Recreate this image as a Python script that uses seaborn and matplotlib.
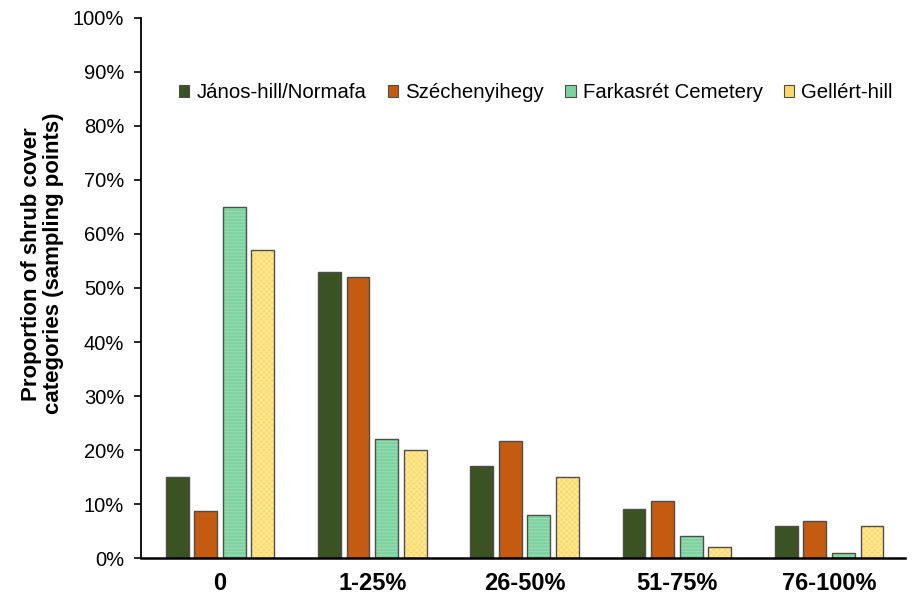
import pandas as pd
import matplotlib
matplotlib.use("Agg")
import matplotlib.pyplot as plt
import seaborn as sns
from matplotlib.patches import Rectangle, Patch
from matplotlib.ticker import PercentFormatter

categories = ["0", "1-25%", "26-50%", "51-75%", "76-100%"]
sites = ["János-hill/Normafa", "Széchenyihegy", "Farkasrét Cemetery", "Gellért-hill"]
janos = [15, 53, 17, 9, 6]
szechenyi = [8.7, 52, 21.6, 10.6, 6.9]
farkasret = [65, 22, 8, 4, 1]
gellert = [57, 20, 15, 2, 6]

colors = ["#3B5323", "#C55A11", "#7DD39F", "#FFD966"]
hatch_colors = [None, None, "#9DDFB6", "#FFEBA6"]
hatches = [None, None, "-----", "xxxxxx"]

df = pd.DataFrame({
    "category": categories * 4,
    "site": [s for s in sites for _ in categories],
    "value": janos + szechenyi + farkasret + gellert,
})

sns.set_theme(style="white")
plt.rcParams["font.family"] = ["Liberation Sans", "DejaVu Sans"]
plt.rcParams["text.color"] = "black"
plt.rcParams["xtick.color"] = "black"
plt.rcParams["ytick.color"] = "black"
plt.rcParams["axes.labelcolor"] = "black"
plt.rcParams["hatch.linewidth"] = 0.7

fig = plt.figure(figsize=(9.2, 5.95), dpi=100)
ax = fig.add_axes([0.153, 0.062, 0.831, 0.908])

sns.barplot(data=df, x="category", y="value", hue="site", hue_order=sites,
            order=categories, palette=colors, saturation=1, width=0.75, gap=0.2,
            edgecolor="#4d4d4d", linewidth=1.0, legend=False, ax=ax)

# hatch the light series, then redraw the grey outline over the hatch
for i, cont in enumerate(ax.containers):
    if hatches[i] is None:
        continue
    for bar in cont:
        bar.set_hatch(hatches[i])
        bar.set_edgecolor(hatch_colors[i])
        bar.set_linewidth(0)
        ax.add_patch(Rectangle(bar.get_xy(), bar.get_width(), bar.get_height(),
                               fill=False, edgecolor="#4d4d4d", linewidth=1.0))

ax.set_ylim(0, 100)
ax.set_xlim(-0.52, 4.5)
ax.yaxis.set_major_formatter(PercentFormatter(decimals=0))
ax.set_yticks(range(0, 101, 10))
ax.tick_params(axis="y", direction="out", length=5, width=1.2, color="black",
               labelsize=14.5, left=True, pad=7)
ax.tick_params(axis="x", length=0, labelsize=17, pad=10)
for lab in ax.get_xticklabels():
    lab.set_fontweight("bold")

for side in ["top", "right"]:
    ax.spines[side].set_visible(False)
ax.spines["left"].set_color("black")
ax.spines["left"].set_linewidth(1.3)
ax.spines["bottom"].set_color("black")
ax.spines["bottom"].set_linewidth(1.8)

ax.set_xlabel("")
ax.set_ylabel("Proportion of shrub cover\ncategories (sampling points)",
              fontsize=16, fontweight="bold", linespacing=1.05)
ax.yaxis.set_label_coords(-0.101, 0.545)

handles = [Patch(facecolor=c, edgecolor="#4d4d4d", linewidth=0.8) for c in colors]
ax.legend(handles, sites, loc="center", bbox_to_anchor=(0.517, 0.861),
          ncol=4, frameon=False, fontsize=14.7, handlelength=0.5, handleheight=0.5,
          handletextpad=0.35, columnspacing=1.05, borderpad=0)

fig.savefig("out.png", dpi=100)
